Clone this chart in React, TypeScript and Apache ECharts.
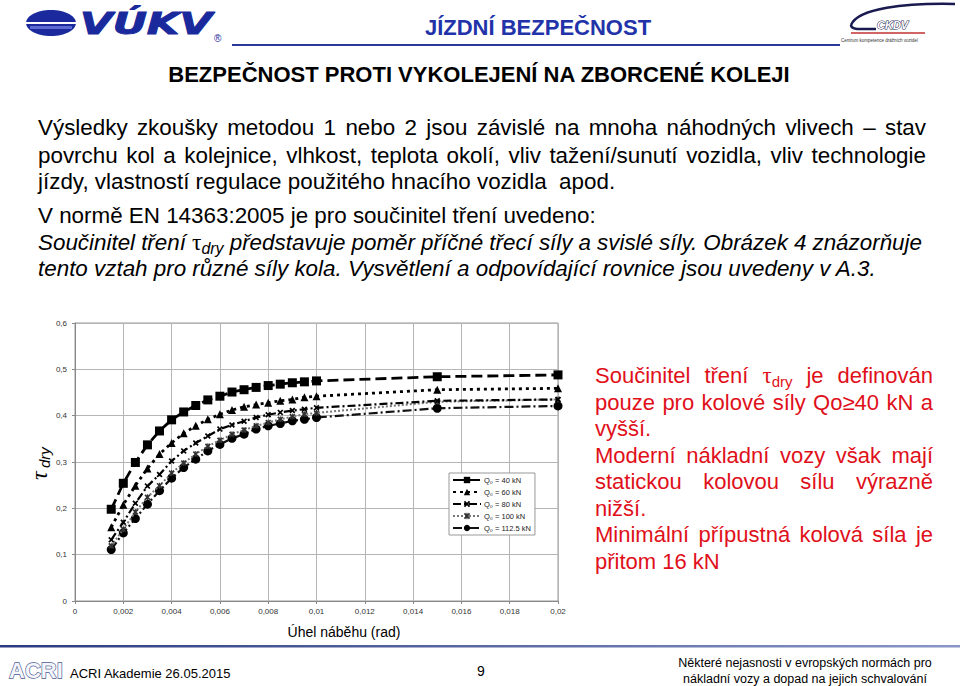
import React, { useEffect, useRef } from "react";
import * as echarts from "echarts";

// ---------- data ----------
const xAngles = [0.0015, 0.002, 0.0025, 0.003, 0.0035, 0.004, 0.0045, 0.005, 0.0055, 0.006, 0.0065, 0.007, 0.0075, 0.008, 0.0085, 0.009, 0.0095, 0.01, 0.015, 0.02];
const q40 = [0.198, 0.254, 0.299, 0.337, 0.367, 0.391, 0.408, 0.422, 0.434, 0.442, 0.451, 0.456, 0.461, 0.465, 0.468, 0.471, 0.473, 0.475, 0.484, 0.488];
const q60 = [0.159, 0.208, 0.249, 0.286, 0.317, 0.341, 0.362, 0.378, 0.392, 0.403, 0.412, 0.419, 0.424, 0.428, 0.432, 0.435, 0.440, 0.442, 0.456, 0.459];
const q80 = [0.132, 0.170, 0.211, 0.248, 0.273, 0.302, 0.324, 0.341, 0.356, 0.371, 0.380, 0.388, 0.396, 0.402, 0.407, 0.411, 0.414, 0.417, 0.432, 0.435];
const q100 = [0.119, 0.155, 0.192, 0.224, 0.249, 0.276, 0.298, 0.317, 0.334, 0.347, 0.360, 0.369, 0.378, 0.385, 0.392, 0.398, 0.403, 0.406, 0.430, 0.435];
const q112 = [0.111, 0.147, 0.178, 0.209, 0.238, 0.265, 0.288, 0.306, 0.324, 0.338, 0.351, 0.360, 0.371, 0.378, 0.383, 0.389, 0.392, 0.396, 0.416, 0.421];
const seriesNames = ["Q₀ = 40 kN", "Q₀ = 60 kN", "Q₀ = 80 kN", "Q₀ = 100 kN", "Q₀ = 112.5 kN"];
const seriesValues = [q40, q60, q80, q100, q112];

const headerTitle = "JÍZDNÍ BEZPEČNOST";
const subTitle = "BEZPEČNOST PROTI VYKOLEJENÍ NA ZBORCENÉ KOLEJI";
const bodyLines = [
  "Výsledky zkoušky metodou 1 nebo 2 jsou závislé na mnoha náhodných vlivech – stav",
  "povrchu kol a kolejnice, vlhkost, teplota okolí, vliv tažení/sunutí vozidla, vliv technologie",
  "jízdy, vlastností regulace použitého hnacího vozidla  apod.",
  "V normě EN 14363:2005 je pro součinitel tření uvedeno:",
  "Součinitel tření τ_dry představuje poměr příčné třecí síly a svislé síly. Obrázek 4 znázorňuje",
  "tento vztah pro různé síly kola. Vysvětlení a odpovídající rovnice jsou uvedeny v A.3.",
];
const redLines = [
  "Součinitel tření τ_dry je definován",
  "pouze pro kolové síly Qo≥40 kN a",
  "vyšší.",
  "Moderní nákladní vozy však mají",
  "statickou kolovou sílu výrazně",
  "nižší.",
  "Minimální přípustná kolová síla je",
  "přitom 16 kN",
];
const xAxisTitle = "Úhel náběhu (rad)";
const footerLeft = "ACRI Akademie 26.05.2015";
const footerPage = "9";
const footerRight1 = "Některé nejasnosti v evropských normách pro";
const footerRight2 = "nákladní vozy a dopad na jejich schvalování";

// ---------- helpers ----------
const SANS = '"Liberation Sans", Arial, sans-serif';
const SERIF = '"Liberation Serif", "Times New Roman", serif';
let ctx: CanvasRenderingContext2D | null = null;
function measure(text: string, size: number, italic: boolean, family: string, bold = false) {
  if (!ctx) ctx = document.createElement("canvas").getContext("2d");
  if (!ctx) return text.length * size * 0.5;
  ctx.font = `${italic ? "italic " : ""}${bold ? "bold " : ""}${size}px ${family}`;
  return ctx.measureText(text).width;
}

function txt(x: number, y: number, text: string, o: any = {}) {
  return {
    type: "text",
    x,
    y,
    z: o.z ?? 10,
    silent: true,
    style: {
      text,
      fill: o.color ?? "#000",
      fontSize: o.size ?? 14,
      fontFamily: o.family ?? SANS,
      fontStyle: o.italic ? "italic" : "normal",
      fontWeight: o.bold ? "bold" : "normal",
      align: o.align ?? "left",
      verticalAlign: o.valign ?? "middle",
      stroke: o.stroke,
      lineWidth: o.lineWidth,
    },
  };
}

function lineEls(str: string, x0: number, x1: number | null, y: number, o: { size: number; italic: boolean; color: string }) {
  const words = str.split(" ");
  const hasSpecial = words.includes("τ_dry");
  if (x1 === null && !hasSpecial) {
    return [txt(x0, y, str, { size: o.size, italic: o.italic, color: o.color })];
  }
  const toks = words.map((w) =>
    w === "τ_dry"
      ? [
          { text: "τ", size: o.size + 1, italic: false, family: SERIF, dy: 0 },
          { text: "dry", size: Math.round(o.size * 0.7), italic: o.italic, family: SANS, dy: o.size * 0.3 },
        ]
      : [{ text: w, size: o.size, italic: o.italic, family: SANS, dy: 0 }]
  );
  const widths = toks.map((t) => t.reduce((s, p) => s + measure(p.text, p.size, p.italic, p.family), 0));
  const total = widths.reduce((a, b) => a + b, 0);
  const gap = x1 !== null && toks.length > 1 ? (x1 - x0 - total) / (toks.length - 1) : measure(" ", o.size, o.italic, SANS);
  const els: any[] = [];
  let x = x0;
  toks.forEach((t, i) => {
    let xx = x;
    t.forEach((p) => {
      els.push(txt(xx, y + p.dy, p.text, { size: p.size, italic: p.italic, family: p.family, color: o.color }));
      xx += measure(p.text, p.size, p.italic, p.family);
    });
    x += widths[i] + gap;
  });
  return els;
}

const X_PATH = "path://M2,0L5,3L8,0L10,2L7,5L10,8L8,10L5,7L2,10L0,8L3,5L0,2Z";
const STAR_PATH = "path://M2,0L5,3L8,0L10,2L7,5L10,8L8,10L5,7L2,10L0,8L3,5L0,2ZM4.2,0L5.8,0L5.8,10L4.2,10Z";

export default function App() {
  const ref = useRef<HTMLDivElement>(null);
  useEffect(() => {
    if (!ref.current) return;
    const chart = echarts.init(ref.current, null, { renderer: "svg" });

    const styles = [
      { symbol: "rect", size: 9, line: { color: "#000", width: 2.8, type: [11, 5] }, item: "#000" },
      { symbol: "triangle", size: 8, line: { color: "#000", width: 2.8, type: [3, 4] }, item: "#000" },
      { symbol: X_PATH, size: 6, line: { color: "#000", width: 2.2, type: [8, 3, 2, 3] }, item: "#000" },
      { symbol: STAR_PATH, size: 6, line: { color: "#777", width: 2, type: [2, 2] }, item: "#333" },
      { symbol: "circle", size: 9, line: { color: "#111", width: 2.2, type: [9, 3, 2, 3] }, item: "#000" },
    ];

    const series = seriesNames.map((name, i) => ({
      type: "line",
      name,
      data: xAngles.map((x, j) => [x, seriesValues[i][j]]),
      symbol: styles[i].symbol,
      symbolSize: styles[i].size,
      showSymbol: true,
      lineStyle: styles[i].line,
      itemStyle: { color: styles[i].item },
      z: 5 - i,
    }));

    const graphics: any[] = [];
    // left logo
    graphics.push({
      type: "ellipse",
      shape: { cx: 51, cy: 23, rx: 25, ry: 13 },
      style: { fill: "#1a2a9c" },
    });
    graphics.push({ type: "rect", shape: { x: 26, y: 22, width: 50, height: 2 }, style: { fill: "#ffffff" } });
    graphics.push({ type: "rect", shape: { x: 30, y: 26, width: 42, height: 3 }, style: { fill: "#5a6ad0" } });
    graphics.push({
      type: "text",
      x: 80,
      y: 24,
      scaleX: 1.36,
      style: {
        text: "VÚKV",
        fill: "#1a2a9c",
        fontSize: 31,
        fontFamily: '"DejaVu Sans", sans-serif',
        fontWeight: "bold",
        fontStyle: "italic",
        verticalAlign: "middle",
        stroke: "#1a2a9c",
        lineWidth: 1,
      },
    });
    graphics.push(txt(214, 38, "®", { size: 10, color: "#1a2a9c" }));
    // header
    graphics.push(txt(538, 27, headerTitle, { size: 22, bold: true, color: "#2233aa", align: "center" }));
    graphics.push({ type: "line", shape: { x1: 232, y1: 45, x2: 840, y2: 45 }, style: { stroke: "#2a3a9a", lineWidth: 2 } });
    // right logo
    graphics.push({
      type: "bezierCurve",
      shape: { x1: 955, y1: 4, cpx1: 905, cpy1: 3, cpx2: 858, cpy2: 8, x2: 851, y2: 25 },
      style: { stroke: "#1a1a50", lineWidth: 2.5, fill: "none" },
    });
    graphics.push({
      type: "bezierCurve",
      shape: { x1: 851, y1: 25, cpx1: 851, cpy1: 30, cpx2: 860, cpy2: 29, x2: 876, y2: 29 },
      style: { stroke: "#1a1a50", lineWidth: 2.5, fill: "none" },
    });
    graphics.push(txt(877, 25, "CKDV", { size: 11, bold: true, italic: true, color: "#ffffff", stroke: "#1a1a50", lineWidth: 1 }));
    graphics.push({ type: "line", shape: { x1: 851, y1: 33, x2: 925, y2: 33 }, style: { stroke: "#c23030", lineWidth: 1.5 } });
    graphics.push(txt(841, 40, "Centrum kompetence drážních vozidel", { size: 4.5, color: "#333" }));
    // subtitle
    graphics.push(txt(479, 74, subTitle, { size: 22, bold: true, color: "#000", align: "center" }));
    // body
    const bodyY = [127, 155, 181, 215, 242, 268];
    const bodyRight = [926, 926, null, null, 922, null];
    const bodyItalic = [false, false, false, false, true, true];
    bodyLines.forEach((l, i) => {
      graphics.push(...lineEls(l, 38, bodyRight[i] as any, bodyY[i], { size: 22.4, italic: bodyItalic[i], color: "#000" }));
    });
    // red text
    const redY = [375, 402, 428, 455, 481, 508, 534, 561];
    const redRight = [933, 933, null, 933, 933, null, 933, null];
    redLines.forEach((l, i) => {
      graphics.push(...lineEls(l, 595, redRight[i] as any, redY[i], { size: 22, italic: false, color: "#e0101a" }));
    });
    // y axis title (rotated)
    graphics.push({
      type: "group",
      x: 39,
      y: 463,
      rotation: Math.PI / 2,
      children: [
        { type: "text", x: -17, y: 0, style: { text: "τ", fontSize: 24, fontFamily: SERIF, fontStyle: "italic", fill: "#000", verticalAlign: "middle" } },
        { type: "text", x: -5, y: 5, style: { text: "dry", fontSize: 15, fontFamily: SANS, fontStyle: "italic", fill: "#000", verticalAlign: "middle" } },
      ],
    });
    // x axis title
    graphics.push(txt(344, 632, xAxisTitle, { size: 14, align: "center" }));
    // footer
    graphics.push({
      type: "rect",
      shape: { x: 0, y: 645, width: 960, height: 2.5 },
      style: {
        fill: new echarts.graphic.LinearGradient(0, 0, 1, 0, [
          { offset: 0, color: "#2a3a80" },
          { offset: 1, color: "#8a96c8" },
        ]),
      },
    });
    graphics.push(txt(9, 670, "ACRI", { size: 22, bold: true, color: "#f4f6fb", stroke: "#4a5a90", lineWidth: 1.3 }));
    graphics.push(txt(70, 673, footerLeft, { size: 13 }));
    graphics.push(txt(481, 671, footerPage, { size: 14, align: "center" }));
    graphics.push(txt(805, 663, footerRight1, { size: 12.5, align: "center" }));
    graphics.push(txt(805, 679, footerRight2, { size: 12.5, align: "center" }));

    const option: any = {
      animation: false,
      backgroundColor: "#ffffff",
      grid: { left: 75, top: 323, width: 483, height: 278, show: true, borderColor: "#999", borderWidth: 1, containLabel: false },
      xAxis: {
        type: "value",
        min: 0,
        max: 0.02,
        interval: 0.002,
        axisLine: { show: true, lineStyle: { color: "#888" } },
        axisTick: { show: true, length: 3, lineStyle: { color: "#888" } },
        axisLabel: {
          fontSize: 8,
          color: "#333",
          fontFamily: SANS,
          margin: 6,
          formatter: (v: number) => (v === 0 ? "0" : String(+v.toFixed(3)).replace(".", ",")),
        },
        splitLine: { show: true, lineStyle: { color: "#b5b5b5", width: 1 } },
      },
      yAxis: {
        type: "value",
        min: 0,
        max: 0.6,
        interval: 0.1,
        axisLine: { show: true, lineStyle: { color: "#888" } },
        axisTick: { show: true, length: 3, lineStyle: { color: "#888" } },
        axisLabel: {
          fontSize: 8,
          color: "#333",
          fontFamily: SANS,
          margin: 8,
          formatter: (v: number) => (v === 0 ? "0" : v.toFixed(1).replace(".", ",")),
        },
        splitLine: { show: true, lineStyle: { color: "#b5b5b5", width: 1 } },
      },
      legend: {
        show: true,
        orient: "vertical",
        left: 449,
        top: 473,
        itemWidth: 28,
        itemHeight: 8,
        itemGap: 4,
        padding: [3, 4, 3, 3],
        backgroundColor: "#ffffff",
        borderColor: "#999",
        borderWidth: 1,
        borderRadius: 0,
        textStyle: { fontSize: 7.5, color: "#222", fontFamily: SANS, padding: [0, 0, 0, -2] },
        data: seriesNames,
      },
      series,
      graphic: { elements: graphics },
    };
    chart.setOption(option);
    return () => chart.dispose();
  }, []);
  return <div ref={ref} style={{ position: "absolute", left: 0, top: 0, width: 960, height: 686, background: "#fff" }} />;
}
